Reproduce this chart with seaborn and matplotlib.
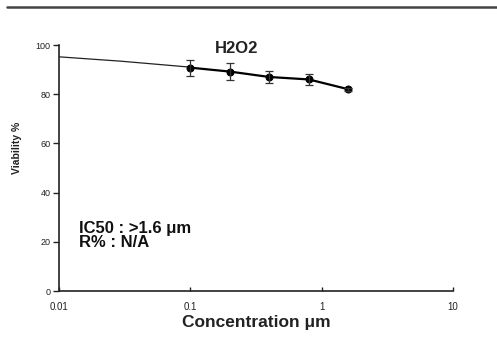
import numpy as np
import pandas as pd
import matplotlib
matplotlib.use("Agg")
import matplotlib.pyplot as plt
from matplotlib.lines import Line2D
import seaborn as sns

# measured viability
conc = [0.1, 0.2, 0.4, 0.8, 1.6]
viability = [90.8, 89.2, 87.0, 86.0, 82.0]
err = [3.3, 3.6, 2.4, 2.4, 0.6]

# fitted curve
fit_conc = [0.01, 0.03, 0.1]
fit_viab = [95.2, 93.4, 91.0]

x_ticks = [0.01, 0.1, 1, 10]
x_tick_labels = ["0.01", "0.1", "1", "10"]
y_ticks = [0, 20, 40, 60, 80, 100]

sns.set_style("ticks")
plt.rcParams["font.family"] = ["Liberation Sans", "DejaVu Sans"]

fig = plt.figure(figsize=(4.97, 3.40), dpi=100)
ax = fig.add_axes([0.1187, 0.1441, 0.7928, 0.7235])

df = pd.DataFrame({"conc": conc, "viability": viability})
fit = pd.DataFrame({"conc": fit_conc, "viability": fit_viab})

sns.lineplot(data=fit, x="conc", y="viability", ax=ax, color="#222222", linewidth=0.9)
sns.lineplot(data=df, x="conc", y="viability", ax=ax, color="black", linewidth=1.6,
             marker="o", markersize=5, markeredgecolor="black")
ax.errorbar(conc, viability, yerr=err, fmt="none", ecolor="#333333",
            elinewidth=0.9, capsize=3, capthick=0.9)

ax.set_xscale("log")
ax.set_xlim(0.01, 10)
ax.set_ylim(0, 100)
ax.set_xticks(x_ticks)
ax.set_xticklabels(x_tick_labels)
ax.minorticks_off()
ax.set_yticks(y_ticks)
ax.tick_params(axis="y", direction="out", length=4, width=1, labelsize=6.5, colors="#222222", pad=2)
ax.tick_params(axis="x", direction="in", length=3, width=1, labelsize=7, colors="#222222", pad=8)
for s in ["left", "bottom"]:
    ax.spines[s].set_color("#222222")
    ax.spines[s].set_linewidth(1.2)
sns.despine(ax=ax)

ax.set_xlabel("Concentration \u03bcm", fontsize=12.5, fontweight="bold", color="#222222", labelpad=2)
ax.set_ylabel("Viability %", fontsize=7.5, fontweight="bold", color="#222222")
ax.yaxis.set_label_coords(-0.094, 0.58)

ax.text(0.45, 0.985, "H2O2", transform=ax.transAxes, fontsize=12, fontweight="bold",
        color="#222222", ha="center", va="center")
ax.text(0.05, 0.225, "IC50 : >1.6 \u03bcm\nR% : N/A", transform=ax.transAxes, fontsize=12,
        fontweight="bold", color="#111111", ha="left", va="center", linespacing=0.95)

fig.add_artist(Line2D([0.014, 1.0], [0.979, 0.979], color="#444444", linewidth=1.8))

fig.savefig("out.png", dpi=100)
